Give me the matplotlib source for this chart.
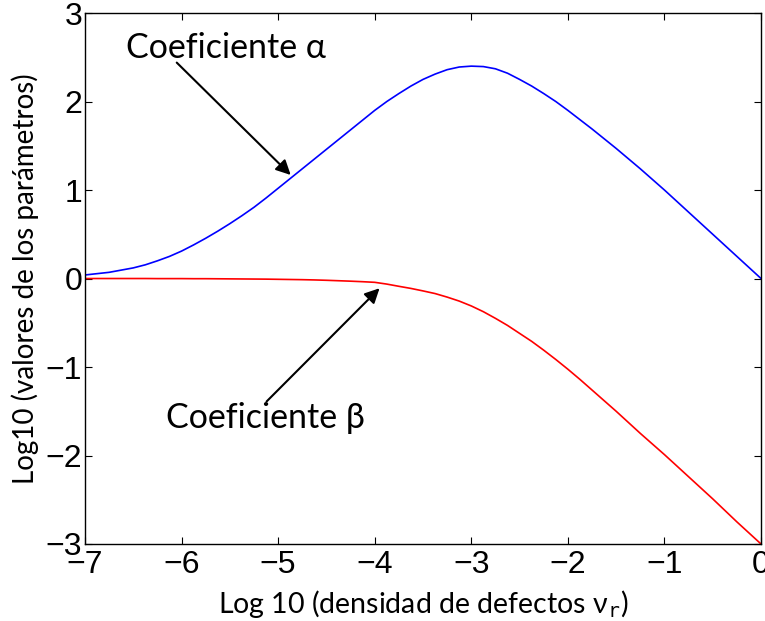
import matplotlib
matplotlib.use("Agg")
import matplotlib.pyplot as plt

# log10 of defect density (read every 0.125)
x_vals = [-7.0, -6.875, -6.75, -6.625, -6.5, -6.375, -6.25, -6.125,
          -6.0, -5.875, -5.75, -5.625, -5.5, -5.375, -5.25, -5.125,
          -5.0, -4.875, -4.75, -4.625, -4.5, -4.375, -4.25, -4.125,
          -4.0, -3.875, -3.75, -3.625, -3.5, -3.375, -3.25, -3.125,
          -3.0, -2.875, -2.75, -2.625, -2.5, -2.375, -2.25, -2.125,
          -2.0, -1.875, -1.75, -1.625, -1.5, -1.375, -1.25, -1.125,
          -1.0, -0.875, -0.75, -0.625, -0.5, -0.375, -0.25, -0.125, 0.0]
# log10 alpha coefficient (blue)
alpha_vals = [0.04, 0.055, 0.07, 0.095, 0.12, 0.155, 0.20, 0.25,
              0.31, 0.38, 0.455, 0.535, 0.62, 0.71, 0.805, 0.91,
              1.02, 1.13, 1.24, 1.35, 1.46, 1.57, 1.68, 1.79,
              1.90, 2.00, 2.09, 2.175, 2.25, 2.31, 2.36, 2.39,
              2.40, 2.395, 2.37, 2.32, 2.25, 2.175, 2.09, 2.00,
              1.90, 1.795, 1.69, 1.58, 1.47, 1.355, 1.24, 1.12,
              1.00, 0.875, 0.75, 0.625, 0.50, 0.375, 0.25, 0.125, 0.0]
# log10 beta coefficient (red)
beta_vals = [0.0, 0.0, 0.0, 0.0, 0.0, 0.0, -0.001, -0.001,
             -0.001, -0.002, -0.002, -0.003, -0.004, -0.005, -0.006, -0.007,
             -0.009, -0.011, -0.013, -0.016, -0.02, -0.025, -0.03, -0.036,
             -0.043, -0.063, -0.088, -0.112, -0.14, -0.17, -0.21, -0.255,
             -0.31, -0.375, -0.45, -0.53, -0.62, -0.71, -0.81, -0.915,
             -1.025, -1.14, -1.26, -1.38, -1.50, -1.625, -1.75, -1.87,
             -1.99, -2.115, -2.24, -2.365, -2.49, -2.62, -2.75, -2.875, -3.0]

x_ticks = [-7, -6, -5, -4, -3, -2, -1, 0]
y_ticks = [-3, -2, -1, 0, 1, 2, 3]

fig = plt.figure(figsize=(7.65, 6.21), dpi=100)
ax = fig.add_axes([0.1111, 0.124, 0.8837, 0.855])

ax.plot(x_vals, alpha_vals, color='#0000ff', lw=1.2)
ax.plot(x_vals, beta_vals, color='#ff0000', lw=1.2)

ax.set_xlim(-7, 0)
ax.set_ylim(-3, 3)
ax.set_xticks(x_ticks)
ax.set_yticks(y_ticks)
ax.set_xticklabels([f"\u2212{abs(t)}" if t < 0 else str(t) for t in x_ticks],
                   family='Liberation Sans', fontsize=23)
ax.set_yticklabels([f"\u2212{abs(t)}" if t < 0 else str(t) for t in y_ticks],
                   family='Liberation Sans', fontsize=23)
ax.tick_params(axis='x', pad=4)
ax.tick_params(axis='y', pad=2)
ax.tick_params(direction='in', length=5, width=0.8, top=True, right=True)
for s in ax.spines.values():
    s.set_linewidth(1.0)

ax.set_xlabel('Log 10 (densidad de defectos \u03bd$_{\\mathtt{r}}$)',
              family='Lato', fontsize=20.5, labelpad=6)
ax.set_ylabel('Log10 (valores de los parámetros)', family='Lato', fontsize=20,
              labelpad=5)

arrow = dict(arrowstyle='-|>', color='black', lw=1.5, mutation_scale=22,
             shrinkA=0, shrinkB=0)
ax.annotate('', xy=(-4.87, 1.17), xytext=(-6.05, 2.44), arrowprops=arrow)
ax.annotate('', xy=(-3.95, -0.11), xytext=(-5.12, -1.39), arrowprops=arrow)
ax.text(-6.58, 2.61, 'Coeficiente \u03b1', family='Lato', fontsize=24.5,
        ha='left', va='center')
ax.text(-6.16, -1.58, 'Coeficiente \u03b2', family='Lato', fontsize=24.5,
        ha='left', va='center')

fig.savefig('out.png', dpi=100)
